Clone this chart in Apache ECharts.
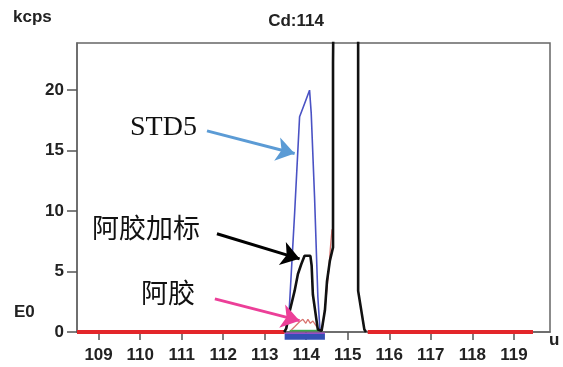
<!DOCTYPE html>
<html>
<head>
<meta charset="utf-8">
<script src="https://cdn.jsdelivr.net/npm/echarts@6/dist/echarts.min.js"></script>
<style>
  html, body { margin: 0; padding: 0; background: #fff; }
  #main { width: 563px; height: 367px; }
</style>
</head>
<body>
<div id="main"></div>
<script>
// 刻度
var xTicks = [109, 110, 111, 112, 113, 114, 115, 116, 117, 118, 119];
var yTicks = [0, 5, 10, 15, 20];

// STD5 (蓝线)
var std5 = [
  [113.51, 0.2], [113.59, 1.8], [113.72, 9.8], [113.84, 17.8],
  [113.95, 18.8], [114.08, 20.0], [114.12, 18.1], [114.20, 11.2],
  [114.28, 2.9], [114.33, 0.2]
];

// 阿胶加标 (黑线), 第二个峰超出量程
var spiked = [
  [113.47, 0], [113.52, 0.3], [113.60, 1.7], [113.72, 3.4], [113.80, 4.8],
  [113.88, 5.6], [113.96, 6.3], [114.10, 6.3], [114.13, 5.5], [114.16, 3.1],
  [114.25, 0.9], [114.28, 0.2], [114.37, 0.1], [114.45, 1.8], [114.50, 4.2],
  [114.57, 5.9], [114.645, 7.0], [114.645, 22.3], [114.69, 22.3], [114.69, 40],
  [115.25, 40], [115.25, 3.4], [115.40, 0.2], [115.44, 0]
];

// 阿胶 (红色细线)
var ejiao = [
  [113.64, 0.17], [113.72, 0.44], [113.84, 0.85], [113.92, 1.05], [113.99, 0.72],
  [114.04, 1.05], [114.10, 0.72], [114.16, 0.91], [114.25, 0.44], [114.31, 0.17],
  [114.38, 0.1], [114.47, 2.5], [114.545, 5.2], [114.58, 6.9], [114.62, 8.5]
];

// 基线
var greenLine = [[113.60, 0.12], [114.30, 0.12]];
var redLeft = [[108.48, 0], [113.48, 0]];
var redRight = [[115.48, 0], [119.46, 0]];
var blueBand = [[113.48, -0.4], [114.45, -0.4]];
var purpleEdge = [[113.48, -0.1], [114.45, -0.1]];

// 箭头 (起点, 终点)
var arrowStd5 = [[111.61, 16.63], [113.72, 14.76]];
var arrowSpiked = [[111.85, 8.13], [113.84, 6.05]];
var arrowEjiao = [[111.80, 2.74], [113.84, 0.94]];

var chart = echarts.init(document.getElementById('main'));

function flat(name, data, color, width) {
  return {
    name: name, type: 'line', data: data, symbol: 'none', clip: false,
    silent: true, lineStyle: { color: color, width: width }
  };
}

function arrow(pts, color) {
  return {
    type: 'line', data: [], silent: true,
    markLine: {
      silent: true, symbol: ['none', 'arrow'], symbolSize: 18,
      label: { show: false },
      itemStyle: { color: color },
      lineStyle: { color: color, width: 3, type: 'solid' },
      data: [[{ coord: pts[0] }, { coord: pts[1] }]]
    }
  };
}

var boldText = { fontFamily: 'Liberation Sans, Arial', fontWeight: 'bold', fontSize: 17, color: '#222' };

var option = {
  animation: false,
  title: {
    text: 'Cd:114', left: 291, top: 8, textAlign: 'center',
    textStyle: boldText
  },
  grid: {
    left: 77, right: 13, top: 43, bottom: 35,
    show: true, borderColor: '#666', borderWidth: 1.5
  },
  xAxis: {
    type: 'value', min: 108.48, max: 119.87,
    axisLine: { lineStyle: { color: '#666', width: 1.5 } },
    axisTick: { customValues: xTicks, length: 8, lineStyle: { color: '#555', width: 1.5 } },
    axisLabel: Object.assign({ customValues: xTicks, margin: 15 }, boldText),
    splitLine: { show: false }
  },
  yAxis: {
    type: 'value', min: 0, max: 23.9,
    axisLine: { show: true, lineStyle: { color: '#666', width: 1.5 } },
    axisTick: { show: true, customValues: yTicks, length: 10, lineStyle: { color: '#555', width: 1.5 } },
    axisLabel: Object.assign({ customValues: yTicks, margin: 13 }, boldText),
    splitLine: { show: false }
  },
  graphic: [
    { type: 'text', left: 13, top: 9, style: { text: 'kcps', font: 'bold 17px Liberation Sans', fill: '#222' } },
    { type: 'text', left: 14, top: 304, style: { text: 'E0', font: 'bold 17px Liberation Sans', fill: '#222' } },
    { type: 'text', left: 549, top: 332, style: { text: 'u', font: 'bold 17px Liberation Sans', fill: '#222' } },
    { type: 'text', left: 130, top: 114, style: { text: 'STD5', font: '28px Liberation Serif', fill: '#111' } },
    { type: 'text', left: 92, top: 214, style: { text: '阿胶加标', font: '27px Noto Sans CJK SC', fill: '#111' } },
    { type: 'text', left: 141, top: 279, style: { text: '阿胶', font: '27px Noto Sans CJK SC', fill: '#111' } }
  ],
  series: [
    flat('red1', redLeft, '#e3262a', 4),
    flat('red2', redRight, '#e3262a', 4),
    flat('band', blueBand, '#3550b4', 6),
    flat('edge', purpleEdge, '#9a4cc8', 1.5),
    flat('green', greenLine, '#3aa64a', 1.5),
    { name: 'STD5', type: 'line', data: std5, symbol: 'none', silent: true,
      lineStyle: { color: '#4a52c4', width: 1.6 } },
    { name: '阿胶', type: 'line', data: ejiao, symbol: 'none', silent: true,
      lineStyle: { color: '#d9736f', width: 1.3 } },
    { name: '阿胶加标', type: 'line', data: spiked, symbol: 'none', silent: true,
      lineStyle: { color: '#111', width: 2.6 } },
    arrow(arrowStd5, '#5b9bd5'),
    arrow(arrowSpiked, '#000'),
    arrow(arrowEjiao, '#ec3f98')
  ]
};
chart.setOption(option);
</script>
</body>
</html>
